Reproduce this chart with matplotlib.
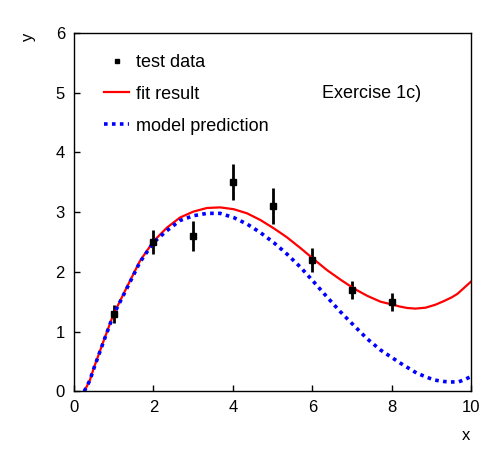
import matplotlib
matplotlib.use("Agg")
import matplotlib.pyplot as plt
from matplotlib.lines import Line2D

plt.rcParams['font.family'] = ['Liberation Sans', 'DejaVu Sans']

# measured points
data_x = [1, 2, 3, 4, 5, 6, 7, 8]
data_y = [1.3, 2.5, 2.6, 3.5, 3.1, 2.2, 1.7, 1.5]
data_err = [0.15, 0.2, 0.25, 0.3, 0.3, 0.2, 0.15, 0.15]

# fit result curve
fit_x = [0.26, 0.40, 0.49, 0.74, 0.99, 1.33, 1.66, 2.0, 2.34, 2.67, 3.01, 3.35,
         3.68, 4.02, 4.36, 4.69, 5.03, 5.36, 5.70, 6.04, 6.37, 6.71, 7.05, 7.38,
         7.72, 7.97, 8.2, 8.39, 8.6, 8.85, 9.1, 9.31, 9.5, 9.65, 9.8, 10.0]
fit_y = [0.0, 0.18, 0.37, 0.83, 1.28, 1.74, 2.18, 2.51, 2.74, 2.91, 3.01, 3.07,
         3.08, 3.05, 2.98, 2.87, 2.73, 2.58, 2.40, 2.21, 2.03, 1.87, 1.72, 1.60,
         1.50, 1.46, 1.42, 1.395, 1.385, 1.40, 1.45, 1.51, 1.57, 1.63, 1.72, 1.84]

# model prediction curve
model_x = [0.26, 0.40, 0.49, 0.74, 0.99, 1.33, 1.66, 2.0, 2.34, 2.67, 3.01, 3.35,
           3.68, 4.02, 4.36, 4.69, 5.03, 5.36, 5.70, 6.04, 6.37, 6.71, 7.05, 7.38,
           7.72, 7.97, 8.22, 8.64, 9.06, 9.3, 9.48, 9.69, 9.85, 10.0]
model_y = [0.0, 0.18, 0.36, 0.82, 1.27, 1.72, 2.16, 2.49, 2.69, 2.86, 2.94, 2.98,
           2.98, 2.91, 2.80, 2.66, 2.49, 2.30, 2.08, 1.83, 1.58, 1.33, 1.10, 0.88,
           0.69, 0.58, 0.47, 0.30, 0.19, 0.165, 0.155, 0.16, 0.2, 0.25]

fig = plt.figure(figsize=(4.96, 4.72), dpi=100)
ax = fig.add_axes([0.149, 0.171, 0.801, 0.759])

ax.errorbar(data_x, data_y, yerr=data_err, fmt='s', color='black',
            markersize=4.5, elinewidth=2, capsize=0)
ax.plot(fit_x, fit_y, color='red', lw=1.6)
ax.plot(model_x, model_y, color='blue', lw=2.6, linestyle=(0, (1, 1.2)))

ax.set_xlim(0, 10)
ax.set_ylim(0, 6)
ax.set_xticks([0, 2, 4, 6, 8, 10])
ax.set_yticks([0, 1, 2, 3, 4, 5, 6])
ax.tick_params(direction='in', length=4, width=1, labelsize=12,
               top=False, right=False)
ax.tick_params(axis='x', pad=6)
ax.tick_params(axis='y', pad=6.5)
for s in ax.spines.values():
    s.set_linewidth(1)

fig.text(29 / 496, 1 - 37 / 472, 'y', rotation=90, fontsize=12,
         ha='center', va='center')
fig.text(466 / 496, 1 - 435 / 472, 'x', fontsize=12, ha='center', va='center')
fig.text(322 / 496, 1 - 94 / 472, 'Exercise 1c)', fontsize=13,
         ha='left', va='center')

handles = [
    Line2D([], [], color='black', marker='s', markersize=3, linestyle='none'),
    Line2D([], [], color='red', lw=1.6),
    Line2D([], [], color='blue', lw=2.6, linestyle=(0, (1, 1.2))),
]
labels = ['test data', 'fit result', 'model prediction']
fig.legend(handles, labels, loc='upper left',
           bbox_to_anchor=(104 / 496, 1 - 54 / 472), frameon=False,
           fontsize=13, handlelength=1.4, handletextpad=0.4, labelspacing=0.82,
           borderpad=0, borderaxespad=0)

fig.savefig('out.png', dpi=100, facecolor='white')
